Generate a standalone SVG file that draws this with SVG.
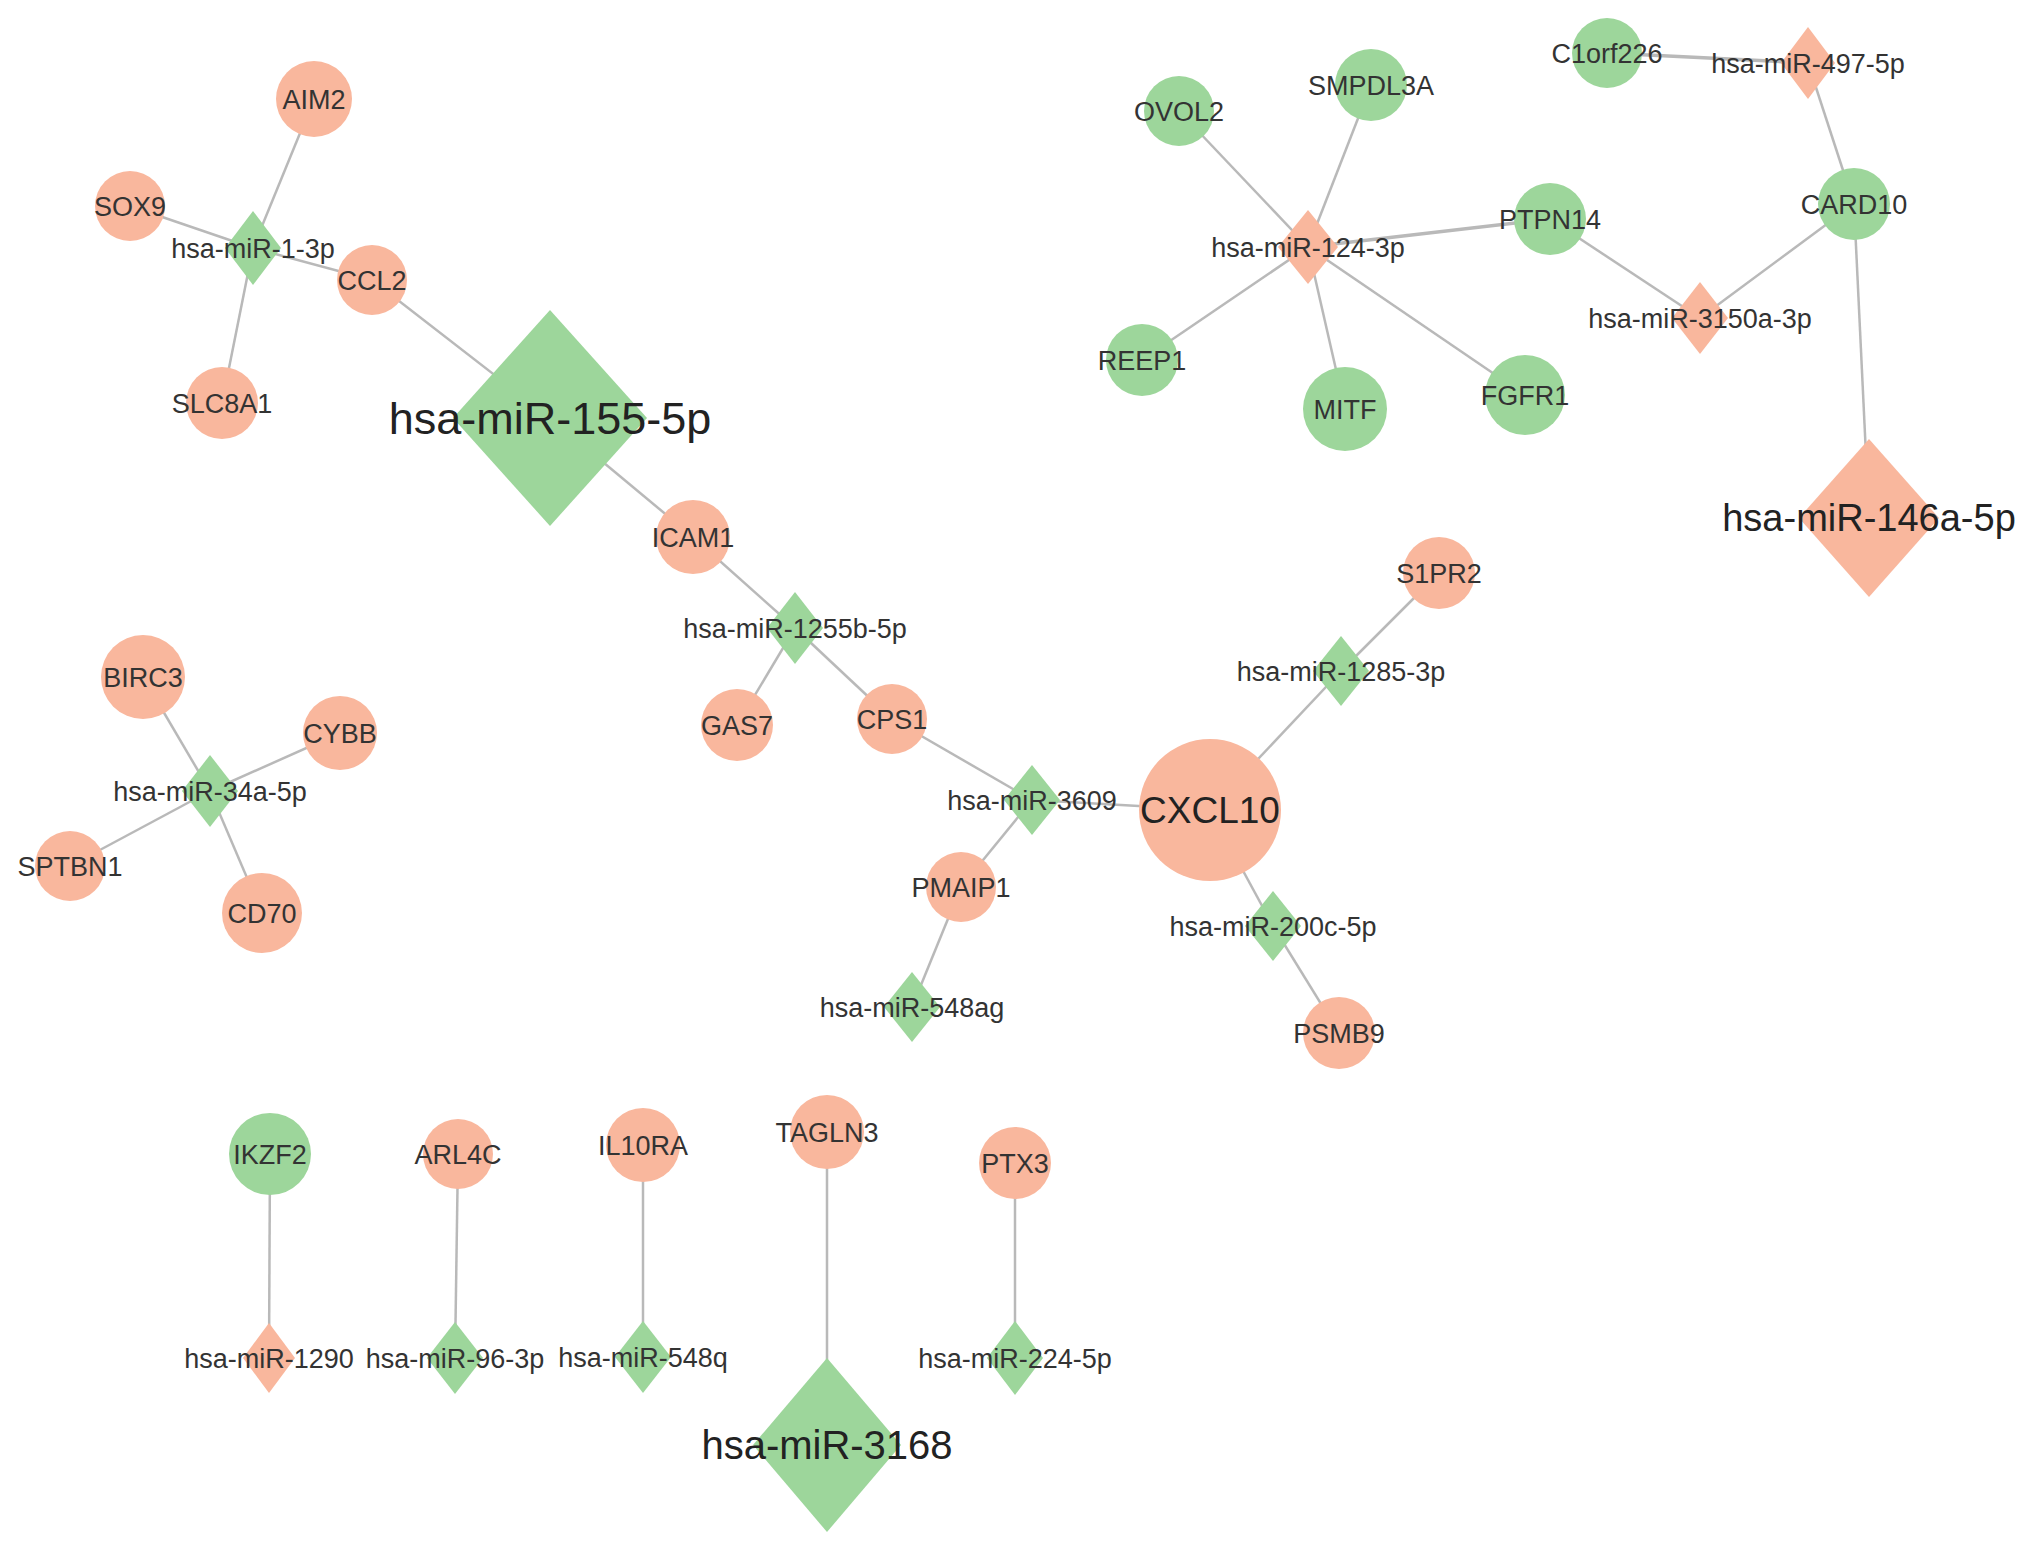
<svg xmlns="http://www.w3.org/2000/svg" width="2032" height="1564" viewBox="0 0 2032 1564">
<style>
.e{stroke:#b9b9b9;stroke-width:2.5;fill:none}
.s{fill:#f9b79d}
.g{fill:#9dd69b}
text{font-family:"Liberation Sans",Arial,sans-serif;fill:#333;text-anchor:middle}
.t{font-size:27px}
.b1{font-size:45px;fill:#222}
.b2{font-size:38px;fill:#222}
.b3{font-size:37px;fill:#222}
</style>
<rect width="2032" height="1564" fill="#fff"/>
<g id="edges">
<line class="e" x1="253" y1="248" x2="314" y2="99"/>
<line class="e" x1="253" y1="248" x2="130" y2="206"/>
<line class="e" x1="253" y1="248" x2="372" y2="280"/>
<line class="e" x1="253" y1="248" x2="222" y2="403"/>
<line class="e" x1="372" y1="280" x2="550" y2="418"/>
<line class="e" x1="550" y1="418" x2="693" y2="537"/>
<line class="e" x1="693" y1="537" x2="795" y2="628"/>
<line class="e" x1="795" y1="628" x2="737" y2="725"/>
<line class="e" x1="795" y1="628" x2="892" y2="719"/>
<line class="e" x1="892" y1="719" x2="1032" y2="800"/>
<line class="e" x1="1032" y1="800" x2="961" y2="887"/>
<line class="e" x1="1032" y1="800" x2="1210" y2="810"/>
<line class="e" x1="961" y1="887" x2="912" y2="1007"/>
<line class="e" x1="1210" y1="810" x2="1341" y2="671"/>
<line class="e" x1="1341" y1="671" x2="1439" y2="573"/>
<line class="e" x1="1210" y1="810" x2="1273" y2="926"/>
<line class="e" x1="1273" y1="926" x2="1339" y2="1033"/>
<line class="e" x1="210" y1="791" x2="143" y2="677"/>
<line class="e" x1="210" y1="791" x2="340" y2="733"/>
<line class="e" x1="210" y1="791" x2="70" y2="866"/>
<line class="e" x1="210" y1="791" x2="262" y2="913"/>
<line class="e" x1="1308" y1="247" x2="1179" y2="111"/>
<line class="e" x1="1308" y1="247" x2="1371" y2="85"/>
<line class="e" x1="1308" y1="247" x2="1550" y2="219" style="stroke-width:3.5"/>
<line class="e" x1="1308" y1="247" x2="1142" y2="360"/>
<line class="e" x1="1308" y1="247" x2="1345" y2="409"/>
<line class="e" x1="1308" y1="247" x2="1525" y2="395"/>
<line class="e" x1="1550" y1="219" x2="1700" y2="318"/>
<line class="e" x1="1700" y1="318" x2="1854" y2="204"/>
<line class="e" x1="1854" y1="204" x2="1808" y2="63"/>
<line class="e" x1="1808" y1="63" x2="1607" y2="53" style="stroke-width:3.5"/>
<line class="e" x1="1854" y1="204" x2="1869" y2="518"/>
<line class="e" x1="270" y1="1154" x2="269" y2="1358"/>
<line class="e" x1="458" y1="1154" x2="455" y2="1358"/>
<line class="e" x1="643" y1="1145" x2="643" y2="1357"/>
<line class="e" x1="827" y1="1132" x2="827" y2="1445"/>
<line class="e" x1="1015" y1="1163" x2="1015" y2="1358"/>
</g>
<g id="AIM2"><circle class="s" cx="314" cy="99" r="38"/><text class="t" x="314" y="109">AIM2</text></g>
<g id="SOX9"><circle class="s" cx="130" cy="206" r="35"/><text class="t" x="130" y="216">SOX9</text></g>
<g id="CCL2"><circle class="s" cx="372" cy="280" r="35"/><text class="t" x="372" y="290">CCL2</text></g>
<g id="SLC8A1"><circle class="s" cx="222" cy="403" r="36"/><text class="t" x="222" y="413">SLC8A1</text></g>
<g id="ICAM1"><circle class="s" cx="693" cy="537" r="37"/><text class="t" x="693" y="547">ICAM1</text></g>
<g id="BIRC3"><circle class="s" cx="143" cy="677" r="42"/><text class="t" x="143" y="687">BIRC3</text></g>
<g id="CYBB"><circle class="s" cx="340" cy="733" r="37"/><text class="t" x="340" y="743">CYBB</text></g>
<g id="SPTBN1"><circle class="s" cx="70" cy="866" r="35"/><text class="t" x="70" y="876">SPTBN1</text></g>
<g id="CD70"><circle class="s" cx="262" cy="913" r="40"/><text class="t" x="262" y="923">CD70</text></g>
<g id="GAS7"><circle class="s" cx="737" cy="725" r="36"/><text class="t" x="737" y="735">GAS7</text></g>
<g id="CPS1"><circle class="s" cx="892" cy="719" r="35"/><text class="t" x="892" y="729">CPS1</text></g>
<g id="PMAIP1"><circle class="s" cx="961" cy="887" r="35"/><text class="t" x="961" y="897">PMAIP1</text></g>
<g id="CXCL10"><circle class="s" cx="1210" cy="810" r="71"/><text class="b3" x="1210" y="823">CXCL10</text></g>
<g id="S1PR2"><circle class="s" cx="1439" cy="573" r="36"/><text class="t" x="1439" y="583">S1PR2</text></g>
<g id="PSMB9"><circle class="s" cx="1339" cy="1033" r="36"/><text class="t" x="1339" y="1043">PSMB9</text></g>
<g id="OVOL2"><circle class="g" cx="1179" cy="111" r="35"/><text class="t" x="1179" y="121">OVOL2</text></g>
<g id="SMPDL3A"><circle class="g" cx="1371" cy="85" r="36"/><text class="t" x="1371" y="95">SMPDL3A</text></g>
<g id="C1orf226"><circle class="g" cx="1607" cy="53" r="35"/><text class="t" x="1607" y="63">C1orf226</text></g>
<g id="PTPN14"><circle class="g" cx="1550" cy="219" r="36"/><text class="t" x="1550" y="229">PTPN14</text></g>
<g id="CARD10"><circle class="g" cx="1854" cy="204" r="36"/><text class="t" x="1854" y="214">CARD10</text></g>
<g id="REEP1"><circle class="g" cx="1142" cy="360" r="36"/><text class="t" x="1142" y="370">REEP1</text></g>
<g id="MITF"><circle class="g" cx="1345" cy="409" r="42"/><text class="t" x="1345" y="419">MITF</text></g>
<g id="FGFR1"><circle class="g" cx="1525" cy="395" r="40"/><text class="t" x="1525" y="405">FGFR1</text></g>
<g id="IKZF2"><circle class="g" cx="270" cy="1154" r="41"/><text class="t" x="270" y="1164">IKZF2</text></g>
<g id="ARL4C"><circle class="s" cx="458" cy="1154" r="35"/><text class="t" x="458" y="1164">ARL4C</text></g>
<g id="IL10RA"><circle class="s" cx="643" cy="1145" r="37"/><text class="t" x="643" y="1155">IL10RA</text></g>
<g id="TAGLN3"><circle class="s" cx="827" cy="1132" r="37"/><text class="t" x="827" y="1142">TAGLN3</text></g>
<g id="PTX3"><circle class="s" cx="1015" cy="1163" r="36"/><text class="t" x="1015" y="1173">PTX3</text></g>
<g id="hsa-miR-1-3p"><polygon class="g" points="253,211 281,248 253,285 225,248"/><text class="t" x="253" y="258">hsa-miR-1-3p</text></g>
<g id="hsa-miR-155-5p"><polygon class="g" points="550,310 647,418 550,526 453,418"/><text class="b1" x="550" y="434">hsa-miR-155-5p</text></g>
<g id="hsa-miR-1255b-5p"><polygon class="g" points="795,592 823,628 795,664 767,628"/><text class="t" x="795" y="638">hsa-miR-1255b-5p</text></g>
<g id="hsa-miR-34a-5p"><polygon class="g" points="210,755 238,791 210,827 182,791"/><text class="t" x="210" y="801">hsa-miR-34a-5p</text></g>
<g id="hsa-miR-3609"><polygon class="g" points="1032,765 1060,800 1032,835 1004,800"/><text class="t" x="1032" y="810">hsa-miR-3609</text></g>
<g id="hsa-miR-548ag"><polygon class="g" points="912,972 940,1007 912,1042 884,1007"/><text class="t" x="912" y="1017">hsa-miR-548ag</text></g>
<g id="hsa-miR-200c-5p"><polygon class="g" points="1273,891 1301,926 1273,961 1245,926"/><text class="t" x="1273" y="936">hsa-miR-200c-5p</text></g>
<g id="hsa-miR-1285-3p"><polygon class="g" points="1341,636 1369,671 1341,706 1313,671"/><text class="t" x="1341" y="681">hsa-miR-1285-3p</text></g>
<g id="hsa-miR-124-3p"><polygon class="s" points="1308,210 1338,247 1308,284 1278,247"/><text class="t" x="1308" y="257">hsa-miR-124-3p</text></g>
<g id="hsa-miR-497-5p"><polygon class="s" points="1808,27 1835,63 1808,99 1781,63"/><text class="t" x="1808" y="73">hsa-miR-497-5p</text></g>
<g id="hsa-miR-3150a-3p"><polygon class="s" points="1700,282 1728,318 1700,354 1672,318"/><text class="t" x="1700" y="328">hsa-miR-3150a-3p</text></g>
<g id="hsa-miR-146a-5p"><polygon class="s" points="1869,439 1939,518 1869,597 1799,518"/><text class="b2" x="1869" y="531">hsa-miR-146a-5p</text></g>
<g id="hsa-miR-1290"><polygon class="s" points="269,1323 295,1358 269,1393 243,1358"/><text class="t" x="269" y="1368">hsa-miR-1290</text></g>
<g id="hsa-miR-96-3p"><polygon class="g" points="455,1322 483,1358 455,1394 427,1358"/><text class="t" x="455" y="1368">hsa-miR-96-3p</text></g>
<g id="hsa-miR-548q"><polygon class="g" points="643,1321 671,1357 643,1393 615,1357"/><text class="t" x="643" y="1367">hsa-miR-548q</text></g>
<g id="hsa-miR-3168"><polygon class="g" points="827,1358 901,1445 827,1532 753,1445"/><text class="b2" x="827" y="1459" style="font-size:40px">hsa-miR-3168</text></g>
<g id="hsa-miR-224-5p"><polygon class="g" points="1015,1321 1043,1358 1015,1395 987,1358"/><text class="t" x="1015" y="1368">hsa-miR-224-5p</text></g>
</svg>
